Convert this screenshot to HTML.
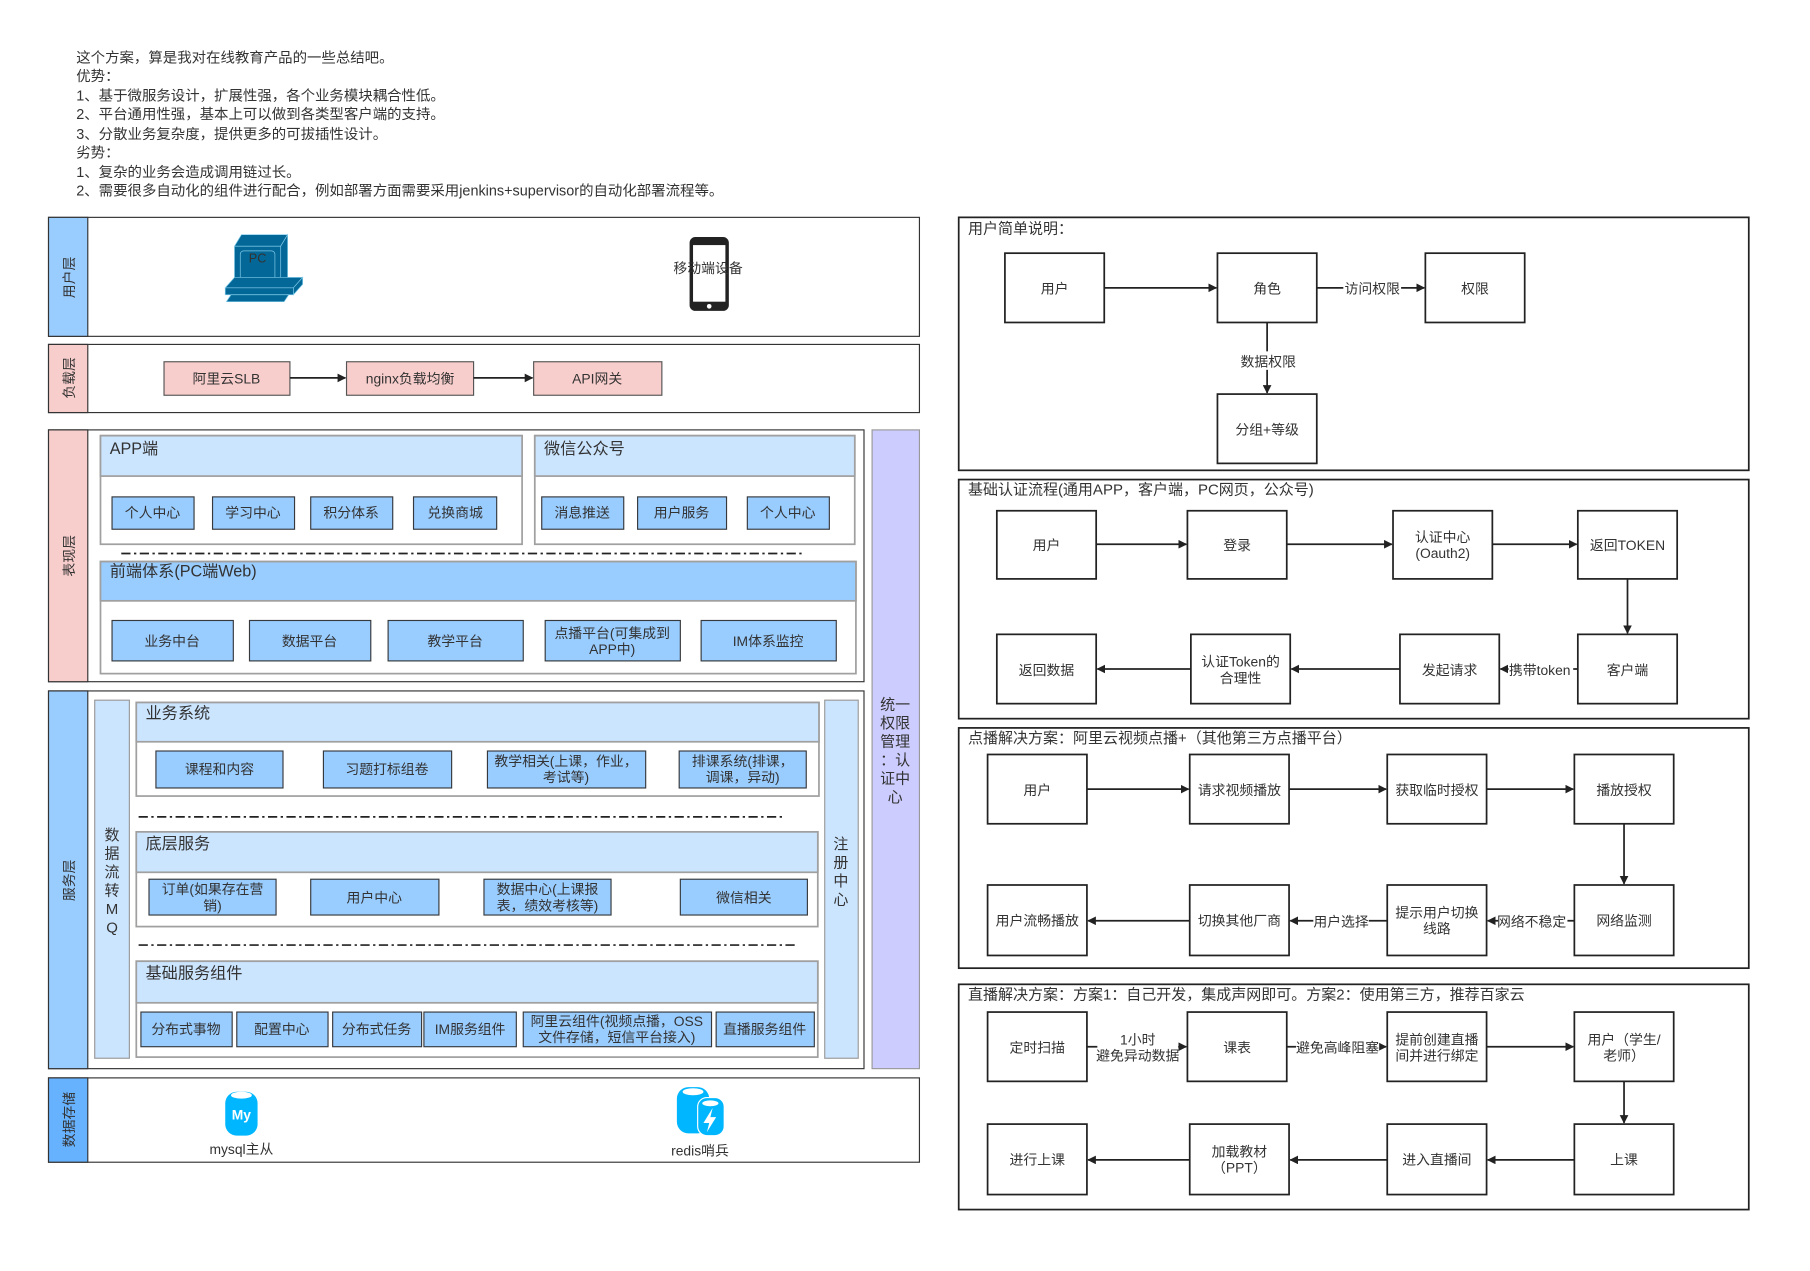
<!DOCTYPE html>
<html><head><meta charset="utf-8"><style>
html,body{margin:0;padding:0;background:#fff;}
svg{display:block;}
text{font-family:"Liberation Sans","Noto Sans CJK SC",sans-serif;fill:#333;}
</style></head><body>
<svg width="1810" height="1271" viewBox="0 0 1567 1100" xmlns="http://www.w3.org/2000/svg">
<defs>
<marker id="a" viewBox="0 0 10 10" refX="9" refY="5" markerWidth="5" markerHeight="5" orient="auto"><path d="M0,0 L10,5 L0,10 Z" fill="#222"/></marker>
</defs>
<rect width="1567" height="1100" fill="#fff"/>
<g font-size="12.5">
<text x="66" y="54">这个方案，算是我对在线教育产品的一些总结吧。</text>
<text x="66" y="70">优势：</text>
<text x="66" y="87">1、基于微服务设计，扩展性强，各个业务模块耦合性低。</text>
<text x="66" y="103">2、平台通用性强，基本上可以做到各类型客户端的支持。</text>
<text x="66" y="120">3、分散业务复杂度，提供更多的可拔插性设计。</text>
<text x="66" y="136">劣势：</text>
<text x="66" y="153">1、复杂的业务会造成调用链过长。</text>
<text x="66" y="169">2、需要很多自动化的组件进行配合，例如部署方面需要采用jenkins+supervisor的自动化部署流程等。</text>
</g>

<rect x="42" y="188" width="754" height="103" fill="#fff" stroke="#333" stroke-width="1"/>
<rect x="42" y="188" width="34" height="103" fill="#99ccff" stroke="#333" stroke-width="1"/>
<text transform="translate(64,240) rotate(-90)" font-size="12" text-anchor="middle">用户层</text>
<g fill="#036897" stroke="#7ec8e8" stroke-width="0.6">
<polygon points="203,213 209,203 249,203 243,213"/>
<polygon points="243,213 249,203 249,243 243,251"/>
<rect x="203" y="213" width="40" height="38"/>
<rect x="208" y="217" width="30" height="28" rx="3"/>
<polygon points="195,249 254,249 262,240 203,240" />
<rect x="195" y="249" width="59" height="6"/>
<polygon points="254,249 262,240 262,246 254,255"/>
<polygon points="196,261 246,261 250,255 200,255"/>
</g>
<text x="223" y="227" font-size="11" fill="#222" text-anchor="middle">PC</text>
<rect x="597" y="205" width="34" height="64" rx="5" fill="#222"/>
<rect x="600" y="212" width="28" height="49" fill="#fff"/>
<circle cx="614" cy="265" r="2" fill="#fff"/>
<text x="613" y="236" font-size="12" text-anchor="middle">移动端设备</text>

<rect x="42" y="298" width="754" height="59" fill="#fff" stroke="#333"/>
<rect x="42" y="298" width="34" height="59" fill="#f8cecc" stroke="#333"/>
<text transform="translate(64,327) rotate(-90)" font-size="12" text-anchor="middle">负载层</text>
<g fill="#f8cecc" stroke="#555">
<rect x="142" y="313" width="109" height="29"/><rect x="300" y="313" width="110" height="29"/><rect x="462" y="313" width="111" height="29"/>
</g>
<g font-size="12" text-anchor="middle">
<text x="196" y="332">阿里云SLB</text><text x="355" y="332">nginx负载均衡</text><text x="517" y="332">API网关</text>
</g>
<g stroke="#222" stroke-width="1.5" marker-end="url(#a)">
<line x1="251" y1="327" x2="299" y2="327"/><line x1="410" y1="327" x2="461" y2="327"/>
</g>

<rect x="42" y="372" width="706" height="218" fill="#fff" stroke="#333"/>
<rect x="42" y="372" width="34" height="218" fill="#f8cecc" stroke="#333"/>
<text transform="translate(64,481) rotate(-90)" font-size="12" text-anchor="middle">表现层</text>
<g stroke="#a0a0a0" stroke-width="1.5">
<rect x="87" y="377" width="365" height="94" fill="#fff"/><rect x="87" y="377" width="365" height="35" fill="#cce5ff"/>
<rect x="463" y="377" width="277" height="94" fill="#fff"/><rect x="463" y="377" width="277" height="35" fill="#cce5ff"/>
<rect x="87" y="486" width="654" height="97" fill="#fff"/><rect x="87" y="486" width="654" height="34" fill="#99ccff"/>
</g>
<g font-size="14">
<text x="95" y="393">APP端</text><text x="471" y="393">微信公众号</text><text x="95" y="499">前端体系(PC端Web)</text>
</g>
<line x1="105" y1="479" x2="697" y2="479" stroke="#222" stroke-width="1.5" stroke-dasharray="8,3,2,3"/>
<g fill="#99ccff" stroke="#36393d">
<rect x="97" y="430" width="71" height="28"/><rect x="184" y="430" width="71" height="28"/><rect x="269" y="430" width="71" height="28"/><rect x="358" y="430" width="72" height="28"/>
<rect x="469" y="430" width="71" height="28"/><rect x="552" y="430" width="77" height="28"/><rect x="647" y="430" width="71" height="28"/>
<rect x="97" y="537" width="105" height="35"/><rect x="216" y="537" width="105" height="35"/><rect x="336" y="537" width="117" height="35"/><rect x="472" y="537" width="117" height="35"/><rect x="607" y="537" width="117" height="35"/>
</g>
<g font-size="12" text-anchor="middle">
<text x="132" y="448">个人中心</text><text x="219" y="448">学习中心</text><text x="304" y="448">积分体系</text><text x="394" y="448">兑换商城</text>
<text x="504" y="448">消息推送</text><text x="590" y="448">用户服务</text><text x="682" y="448">个人中心</text>
<text x="149" y="559">业务中台</text><text x="268" y="559">数据平台</text><text x="394" y="559">教学平台</text>
<text x="530" y="552">点播平台(可集成到</text><text x="530" y="566">APP中)</text><text x="665" y="559">IM体系监控</text>
</g>

<rect x="755" y="372" width="41" height="553" fill="#ccccff" stroke="#999"/>
<g font-size="13" text-anchor="middle">
<text x="775" y="614">统一</text><text x="775" y="630">权限</text><text x="775" y="646">管理</text><text x="775" y="662">：认</text><text x="775" y="678">证中</text><text x="775" y="694">心</text>
</g>

<rect x="42" y="598" width="706" height="327" fill="#fff" stroke="#333"/>
<rect x="42" y="598" width="34" height="327" fill="#99ccff" stroke="#333"/>
<text transform="translate(64,762) rotate(-90)" font-size="12" text-anchor="middle">服务层</text>
<rect x="82" y="606" width="30" height="310" fill="#cce5ff" stroke="#999"/>
<rect x="714" y="606" width="29" height="310" fill="#cce5ff" stroke="#999"/>
<g font-size="13" text-anchor="middle">
<text x="97" y="727">数</text><text x="97" y="743">据</text><text x="97" y="759">流</text><text x="97" y="775">转</text><text x="97" y="791">M</text><text x="97" y="807">Q</text>
<text x="728" y="735">注</text><text x="728" y="751">册</text><text x="728" y="767">中</text><text x="728" y="783">心</text>
</g>
<g stroke="#a0a0a0" stroke-width="1.5">
<rect x="118" y="608" width="591" height="81" fill="#fff"/><rect x="118" y="608" width="591" height="34" fill="#cce5ff"/>
<rect x="118" y="720" width="590" height="82" fill="#fff"/><rect x="118" y="720" width="590" height="35" fill="#cce5ff"/>
<rect x="118" y="832" width="590" height="83" fill="#fff"/><rect x="118" y="832" width="590" height="36" fill="#cce5ff"/>
</g>
<g font-size="14">
<text x="126" y="622">业务系统</text><text x="126" y="735">底层服务</text><text x="126" y="847">基础服务组件</text>
</g>
<g stroke="#222" stroke-width="1.5" stroke-dasharray="8,3,2,3">
<line x1="120" y1="707" x2="680" y2="707"/><line x1="120" y1="818" x2="690" y2="818"/>
</g>
<g fill="#99ccff" stroke="#36393d">
<rect x="135" y="650" width="110" height="32"/><rect x="280" y="650" width="111" height="32"/><rect x="422" y="650" width="137" height="32"/><rect x="588" y="650" width="110" height="32"/>
<rect x="129" y="761" width="110" height="31"/><rect x="269" y="761" width="111" height="31"/><rect x="419" y="761" width="110" height="31"/><rect x="589" y="761" width="110" height="31"/>
<rect x="122" y="876" width="79" height="30"/><rect x="205" y="876" width="79" height="30"/><rect x="288" y="876" width="77" height="30"/><rect x="367" y="876" width="80" height="30"/><rect x="453" y="876" width="163" height="30"/><rect x="620" y="876" width="85" height="30"/>
</g>
<g font-size="12" text-anchor="middle">
<text x="190" y="670">课程和内容</text><text x="335" y="670">习题打标组卷</text><text x="490" y="663">教学相关(上课，作业，</text><text x="490" y="677">考试等)</text><text x="643" y="663">排课系统(排课，</text><text x="643" y="677">调课，异动)</text>
<text x="184" y="774">订单(如果存在营</text><text x="184" y="788">销)</text><text x="324" y="781">用户中心</text><text x="474" y="774">数据中心(上课报</text><text x="474" y="788">表，绩效考核等)</text><text x="644" y="781">微信相关</text>
<text x="161" y="895">分布式事物</text><text x="244" y="895">配置中心</text><text x="326" y="895">分布式任务</text><text x="407" y="895">IM服务组件</text><text x="534" y="888">阿里云组件(视频点播，OSS</text><text x="534" y="902">文件存储，短信平台接入)</text><text x="662" y="895">直播服务组件</text>
</g>

<rect x="42" y="933" width="754" height="73" fill="#fff" stroke="#333"/>
<rect x="42" y="933" width="34" height="73" fill="#66b2ff" stroke="#333"/>
<text transform="translate(64,969) rotate(-90)" font-size="12" text-anchor="middle">数据存储</text>
<rect x="195" y="945" width="28" height="38" rx="10" fill="#00b7ff"/>
<ellipse cx="209" cy="948" rx="9" ry="3" fill="#fff"/>
<text x="209" y="969" font-size="12" font-weight="bold" text-anchor="middle" style="fill:#fff">My</text>
<text x="209" y="999" font-size="12" text-anchor="middle">mysql主从</text>
<rect x="586" y="941" width="28" height="40" rx="10" fill="#00b7ff"/>
<ellipse cx="600" cy="945" rx="9" ry="3" fill="#fff"/>
<rect x="604" y="950" width="23" height="33" rx="8" fill="#00b7ff" stroke="#fff" stroke-width="1"/>
<ellipse cx="615" cy="955" rx="7" ry="2.5" fill="#fff"/>
<polygon points="617,959 609,972 614,972 612,980 620,967 615,967" fill="#fff"/>
<text x="606" y="1000" font-size="12" text-anchor="middle">redis哨兵</text>

<g fill="none" stroke="#222" stroke-width="1.5">
<rect x="830" y="188" width="684" height="219"/><rect x="830" y="415" width="684" height="207"/><rect x="830" y="630" width="684" height="208"/><rect x="830" y="852" width="684" height="195"/>
</g>
<g font-size="13">
<text x="838" y="202">用户简单说明：</text>
<text x="838" y="428">基础认证流程(通用APP，客户端，PC网页，公众号)</text>
<text x="838" y="643">点播解决方案：阿里云视频点播+（其他第三方点播平台）</text>
<text x="838" y="865">直播解决方案：方案1：自己开发，集成声网即可。方案2：使用第三方，推荐百家云</text>
</g>
<g fill="#fff" stroke="#222" stroke-width="1.5">
<rect x="870" y="219" width="86" height="60"/><rect x="1054" y="219" width="86" height="60"/><rect x="1234" y="219" width="86" height="60"/><rect x="1054" y="341" width="86" height="60"/>
<rect x="863" y="442" width="86" height="59"/><rect x="1028" y="442" width="86" height="59"/><rect x="1206" y="442" width="86" height="59"/><rect x="1366" y="442" width="86" height="59"/>
<rect x="863" y="549" width="86" height="60"/><rect x="1031" y="549" width="86" height="60"/><rect x="1212" y="549" width="86" height="60"/><rect x="1366" y="549" width="86" height="60"/>
<rect x="855" y="653" width="86" height="60"/><rect x="1030" y="653" width="86" height="60"/><rect x="1201" y="653" width="86" height="60"/><rect x="1363" y="653" width="86" height="60"/>
<rect x="855" y="766" width="86" height="61"/><rect x="1030" y="766" width="86" height="61"/><rect x="1201" y="766" width="86" height="61"/><rect x="1363" y="766" width="86" height="61"/>
<rect x="855" y="876" width="86" height="60"/><rect x="1028" y="876" width="86" height="60"/><rect x="1201" y="876" width="86" height="60"/><rect x="1363" y="876" width="86" height="60"/>
<rect x="855" y="973" width="86" height="61"/><rect x="1030" y="973" width="86" height="61"/><rect x="1201" y="973" width="86" height="61"/><rect x="1363" y="973" width="86" height="61"/>
</g>
<g stroke="#222" stroke-width="1.5" marker-end="url(#a)">
<line x1="956" y1="249" x2="1053" y2="249"/><line x1="1140" y1="249" x2="1233" y2="249"/><line x1="1097" y1="279" x2="1097" y2="340"/>
<line x1="949" y1="471" x2="1027" y2="471"/><line x1="1114" y1="471" x2="1205" y2="471"/><line x1="1292" y1="471" x2="1365" y2="471"/><line x1="1409" y1="501" x2="1409" y2="548"/>
<line x1="1366" y1="579" x2="1299" y2="579"/><line x1="1212" y1="579" x2="1118" y2="579"/><line x1="1031" y1="579" x2="950" y2="579"/>
<line x1="941" y1="683" x2="1029" y2="683"/><line x1="1116" y1="683" x2="1200" y2="683"/><line x1="1287" y1="683" x2="1362" y2="683"/><line x1="1406" y1="713" x2="1406" y2="765"/>
<line x1="1363" y1="797" x2="1288" y2="797"/><line x1="1201" y1="797" x2="1117" y2="797"/><line x1="1030" y1="797" x2="942" y2="797"/>
<line x1="941" y1="906" x2="1027" y2="906"/><line x1="1114" y1="906" x2="1200" y2="906"/><line x1="1287" y1="906" x2="1362" y2="906"/><line x1="1406" y1="936" x2="1406" y2="972"/>
<line x1="1363" y1="1004" x2="1288" y2="1004"/><line x1="1201" y1="1004" x2="1117" y2="1004"/><line x1="1030" y1="1004" x2="942" y2="1004"/>
</g>
<g font-size="12" text-anchor="middle">
<rect x="1163" y="241" width="50" height="16" fill="#fff"/><text x="1188" y="254">访问权限</text>
<rect x="1073" y="304" width="50" height="16" fill="#fff"/><text x="1098" y="317">数据权限</text>
<rect x="1306" y="572" width="56" height="16" fill="#fff"/><text x="1333" y="584">携带token</text>
<rect x="1137" y="789" width="48" height="16" fill="#fff"/><text x="1161" y="802">用户选择</text>
<rect x="1297" y="789" width="60" height="16" fill="#fff"/><text x="1326" y="802">网络不稳定</text>
<rect x="950" y="893" width="70" height="30" fill="#fff"/><text x="985" y="904">1小时</text><text x="985" y="918">避免异动数据</text>
<rect x="1122" y="899" width="72" height="16" fill="#fff"/><text x="1158" y="911">避免高峰阻塞</text>
<text x="913" y="254">用户</text><text x="1097" y="254">角色</text><text x="1277" y="254">权限</text><text x="1097" y="376">分组+等级</text>
<text x="906" y="476">用户</text><text x="1071" y="476">登录</text><text x="1249" y="469">认证中心</text><text x="1249" y="483">(Oauth2)</text><text x="1409" y="476">返回TOKEN</text>
<text x="906" y="584">返回数据</text><text x="1074" y="577">认证Token的</text><text x="1074" y="591">合理性</text><text x="1255" y="584">发起请求</text><text x="1409" y="584">客户端</text>
<text x="898" y="688">用户</text><text x="1073" y="688">请求视频播放</text><text x="1244" y="688">获取临时授权</text><text x="1406" y="688">播放授权</text>
<text x="898" y="801">用户流畅播放</text><text x="1073" y="801">切换其他厂商</text><text x="1244" y="794">提示用户切换</text><text x="1244" y="808">线路</text><text x="1406" y="801">网络监测</text>
<text x="898" y="911">定时扫描</text><text x="1071" y="911">课表</text><text x="1244" y="904">提前创建直播</text><text x="1244" y="918">间并进行绑定</text><text x="1406" y="904">用户（学生/</text><text x="1406" y="918">老师）</text>
<text x="898" y="1008">进行上课</text><text x="1073" y="1001">加载教材</text><text x="1073" y="1015">（PPT）</text><text x="1244" y="1008">进入直播间</text><text x="1406" y="1008">上课</text>
</g>
</svg>
</body></html>
